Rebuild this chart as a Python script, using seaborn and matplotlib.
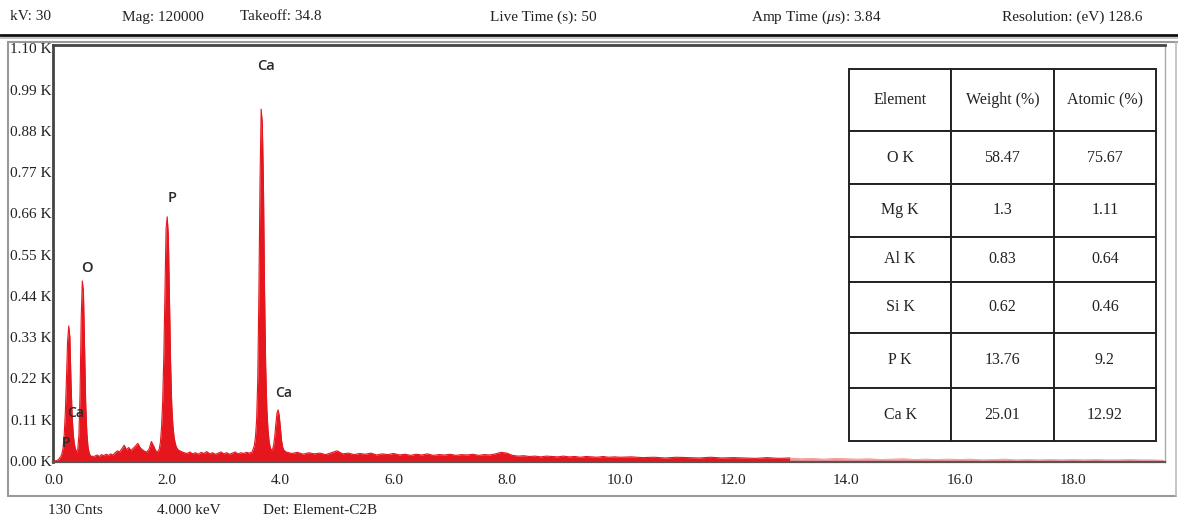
import numpy as np
import pandas as pd
import seaborn as sns
import matplotlib
matplotlib.use("Agg")
import matplotlib.pyplot as plt
from matplotlib.lines import Line2D

# ---------------- spectrum (energy in keV, counts in thousands) ----------------
energy_kev = [
    0.00, 0.02, 0.04, 0.06, 0.08, 0.10, 0.12, 0.14, 0.16, 0.18,
    0.20, 0.22, 0.24, 0.26, 0.28, 0.30, 0.32, 0.34, 0.36, 0.38,
    0.40, 0.42, 0.44, 0.46, 0.48, 0.50, 0.52, 0.54, 0.56, 0.58,
    0.60, 0.62, 0.64, 0.66, 0.68, 0.70,
    0.72, 0.76, 0.80, 0.84, 0.88, 0.92, 0.96, 1.00, 1.04, 1.08,
    1.12, 1.16, 1.20, 1.24, 1.28, 1.32, 1.36, 1.40, 1.44, 1.48,
    1.52, 1.56, 1.60, 1.64, 1.68, 1.72, 1.76, 1.80,
    1.84, 1.86, 1.88, 1.90, 1.92, 1.94, 1.96, 1.98, 2.00, 2.02,
    2.04, 2.06, 2.08, 2.10, 2.12, 2.14, 2.16, 2.18, 2.20, 2.25, 2.30,
    2.35, 2.40, 2.45, 2.50, 2.55, 2.60, 2.65, 2.70, 2.75, 2.80,
    2.85, 2.90, 2.95, 3.00, 3.05, 3.10, 3.15, 3.20, 3.25, 3.30,
    3.35, 3.40, 3.45, 3.50,
    3.52, 3.54, 3.56, 3.58, 3.60, 3.62, 3.64, 3.66, 3.68, 3.70,
    3.72, 3.74, 3.76, 3.78, 3.80, 3.82, 3.84, 3.86,
    3.88, 3.90, 3.92, 3.94, 3.96, 3.98, 4.00, 4.02, 4.04, 4.06,
    4.10, 4.20, 4.30, 4.40, 4.50, 4.60, 4.70, 4.80, 4.90, 5.00,
    5.10, 5.20, 5.30, 5.40, 5.50, 5.60, 5.70, 5.80, 5.90, 6.00,
    6.10, 6.20, 6.30, 6.40, 6.50, 6.60, 6.70, 6.80, 6.90, 7.00,
    7.10, 7.20, 7.30, 7.40, 7.50, 7.60, 7.70, 7.80, 7.90, 8.00,
    8.10, 8.20, 8.30, 8.40, 8.50, 8.60, 8.70, 8.80, 8.90, 9.00,
    9.10, 9.20, 9.30, 9.40, 9.50, 9.60, 9.70, 9.80, 9.90, 10.00,
    10.2, 10.4, 10.6, 10.8, 11.0, 11.2, 11.4, 11.6, 11.8, 12.0,
    12.2, 12.4, 12.6, 12.8, 13.0, 13.2, 13.4, 13.6, 13.8, 14.0,
    14.2, 14.4, 14.6, 14.8, 15.0, 15.2, 15.4, 15.6, 15.8, 16.0,
    16.2, 16.4, 16.6, 16.8, 17.0, 17.2, 17.4, 17.6, 17.8, 18.0,
    18.2, 18.4, 18.6, 18.8, 19.0, 19.2, 19.4, 19.6,
]
counts_k = [
    0.000, 0.000, 0.001, 0.002, 0.004, 0.008, 0.012, 0.020, 0.035, 0.070,
    0.130, 0.220, 0.320, 0.360, 0.330, 0.210, 0.120, 0.070, 0.045, 0.030,
    0.024, 0.032, 0.070, 0.180, 0.380, 0.480, 0.450, 0.300, 0.150, 0.075,
    0.038, 0.022, 0.015, 0.012, 0.013, 0.011,
    0.013, 0.016, 0.012, 0.017, 0.014, 0.018, 0.015, 0.019, 0.016, 0.022,
    0.027, 0.024, 0.033, 0.042, 0.030, 0.036, 0.028, 0.034, 0.040, 0.047,
    0.036, 0.030, 0.026, 0.024, 0.032, 0.052, 0.040, 0.026,
    0.026, 0.032, 0.050, 0.090, 0.160, 0.280, 0.450, 0.620, 0.651, 0.600,
    0.430, 0.260, 0.150, 0.095, 0.065, 0.048, 0.038, 0.032, 0.029, 0.025, 0.022,
    0.020, 0.024, 0.019, 0.022, 0.018, 0.023, 0.020, 0.025, 0.019, 0.022,
    0.018, 0.021, 0.024, 0.019, 0.022, 0.018, 0.021, 0.024, 0.019, 0.022,
    0.020, 0.023, 0.021, 0.024,
    0.032, 0.042, 0.065, 0.110, 0.220, 0.450, 0.750, 0.938, 0.900, 0.740,
    0.450, 0.250, 0.140, 0.085, 0.052, 0.036, 0.029, 0.031,
    0.042, 0.065, 0.100, 0.128, 0.136, 0.120, 0.088, 0.055, 0.037, 0.029,
    0.024, 0.020, 0.023, 0.018, 0.022, 0.019, 0.021, 0.017, 0.022, 0.027,
    0.019, 0.021, 0.017, 0.020, 0.018, 0.021, 0.016, 0.019, 0.017, 0.020,
    0.016, 0.018, 0.015, 0.018, 0.016, 0.019, 0.015, 0.017, 0.016, 0.018,
    0.015, 0.017, 0.016, 0.018, 0.015, 0.017, 0.016, 0.019, 0.023, 0.021,
    0.015, 0.013, 0.014, 0.012, 0.013, 0.011, 0.013, 0.012, 0.011, 0.013,
    0.011, 0.012, 0.010, 0.012, 0.011, 0.010, 0.012, 0.010, 0.011, 0.010,
    0.011, 0.009, 0.010, 0.008, 0.010, 0.009, 0.008, 0.010, 0.008, 0.009,
    0.008, 0.007, 0.009, 0.007, 0.008, 0.006, 0.007, 0.005, 0.007, 0.006,
    0.005, 0.006, 0.004, 0.005, 0.006, 0.004, 0.005, 0.004, 0.005, 0.004,
    0.005, 0.003, 0.004, 0.005, 0.003, 0.004, 0.003, 0.004, 0.003, 0.004,
    0.003, 0.004, 0.003, 0.003, 0.004, 0.003, 0.003, 0.002,
]

# ---------------- peak identifications ----------------
peak_labels = ["P", "Ca", "O", "P", "Ca", "Ca"]
peak_label_kev = [0.21, 0.39, 0.58, 2.08, 3.75, 4.05]
peak_label_k = [0.048, 0.128, 0.515, 0.700, 1.053, 0.180]
peak_label_size = [10.0, 10.0, 10.5, 10.5, 10.5, 10.0]

# ---------------- quantification table ----------------
elements = ["O K", "Mg K", "Al K", "Si K", "P K", "Ca K"]
weight_pct = ["58.47", "1.3", "0.83", "0.62", "13.76", "25.01"]
atomic_pct = ["75.67", "1.11", "0.64", "0.46", "9.2", "12.92"]
table_header = ["Element", "Weight (%)", "Atomic (%)"]

# ---------------- acquisition info ----------------
header_items = ["kV: 30", "Mag: 120000", "Takeoff: 34.8", "Live Time (s): 50",
                "Amp Time ($\\mu$s): 3.84", "Resolution: (eV) 128.6"]
footer_items = ["130 Cnts", "4.000 keV", "Det: Element-C2B"]
y_ticks_k = [0.00, 0.11, 0.22, 0.33, 0.44, 0.55, 0.66, 0.77, 0.88, 0.99, 1.10]
x_ticks_kev = [0.0, 2.0, 4.0, 6.0, 8.0, 10.0, 12.0, 14.0, 16.0, 18.0]

# ---------------- style ----------------
sns.set_theme(style="white")
serif = ["Liberation Serif", "DejaVu Serif"]
plt.rcParams["font.family"] = serif
plt.rcParams["mathtext.fontset"] = "custom"
plt.rcParams["mathtext.rm"] = "Liberation Serif"
plt.rcParams["mathtext.it"] = "Liberation Serif:italic"

W, H = 1178, 523
fig = plt.figure(figsize=(W / 100, H / 100), dpi=100)
fig.patch.set_facecolor("white")


def fx(px):
    return px / W


def fy(py):
    return 1 - py / H


ax_left, ax_right, ax_top, ax_bottom = 53, 1165, 45, 462
ax = fig.add_axes([fx(ax_left), fy(ax_bottom), fx(ax_right - ax_left),
                   (ax_bottom - ax_top) / H])

spec = pd.DataFrame({"energy": energy_kev, "counts": counts_k})
red = "#e5161d"
main = spec[spec.energy <= 13.0]
tail = spec[spec.energy >= 13.0]
ax.fill_between(main.energy, 0, main.counts, color=red, lw=0, zorder=2)
ax.fill_between(tail.energy, 0, tail.counts, color=red, alpha=0.45, lw=0, zorder=2)
sns.lineplot(data=main, x="energy", y="counts", ax=ax, color=red, lw=0.8,
             zorder=3, estimator=None)
sns.lineplot(data=tail, x="energy", y="counts", ax=ax, color=red, lw=0.6,
             alpha=0.45, zorder=3, estimator=None)

ax.set_xlim(-0.018, 19.63)
ax.set_ylim(-0.0027, 1.109)
ax.set_xlabel("")
ax.set_ylabel("")
ax.set_xticks(x_ticks_kev)
ax.set_xticklabels([f"{v:.1f}" for v in x_ticks_kev], fontsize=11)
ax.set_yticks(y_ticks_k)
ax.set_yticklabels([f"{v:.2f} K" for v in y_ticks_k], fontsize=11)
ax.tick_params(axis="x", direction="in", length=4, width=1, color="#666",
               pad=9, labelcolor="#222")
ax.tick_params(axis="y", direction="in", length=3, width=1, color="#666",
               pad=1, labelcolor="#222")
for side, lw, col in [("left", 2.0, "#444"), ("top", 2.0, "#444"),
                      ("bottom", 1.6, "#555"), ("right", 1.0, "#aaa")]:
    ax.spines[side].set_visible(True)
    ax.spines[side].set_linewidth(lw)
    ax.spines[side].set_color(col)

for lab, xk, yk, sz in zip(peak_labels, peak_label_kev, peak_label_k, peak_label_size):
    ax.text(xk, yk, lab, ha="center", va="center", fontsize=sz,
            family=["Open Sans", "DejaVu Sans"], fontweight="semibold",
            color="#2a2a2a", zorder=5)

# quantification table
cell_text = [[e, w, a] for e, w, a in zip(elements, weight_pct, atomic_pct)]
tbl_x0, tbl_x1, tbl_y0, tbl_y1 = 849, 1156, 69, 441
ax_w, ax_h = ax_right - ax_left, ax_bottom - ax_top
tbl = ax.table(cellText=cell_text, colLabels=table_header, cellLoc="center",
               bbox=[(tbl_x0 - ax_left) / ax_w, (ax_bottom - tbl_y1) / ax_h,
                     (tbl_x1 - tbl_x0) / ax_w, (tbl_y1 - tbl_y0) / ax_h],
               zorder=6)
tbl.auto_set_font_size(False)
row_px = [62.4, 52.6, 52.4, 45.0, 51.0, 55.6, 52.7]
for (r, c), cell in tbl.get_celld().items():
    cell.set_height(row_px[r])
    cell.set_linewidth(1.4)
    cell.set_edgecolor("#222")
    cell.set_facecolor("white")
    cell.get_text().set_fontsize(11.5)
    cell.get_text().set_fontfamily(serif)
    cell.get_text().set_color("#222")

# header, rules and frame
header_x = [10, 122, 240, 490, 751, 1002]
for txt, x in zip(header_items, header_x):
    fig.text(fx(x), fy(17), txt, ha="left", va="center", fontsize=11, color="#222")
footer_x = [48, 157, 263]
for txt, x in zip(footer_items, footer_x):
    fig.text(fx(x), fy(511), txt, ha="left", va="center", fontsize=11, color="#222")

fig.add_artist(Line2D([0, 1], [fy(35), fy(35)], color="#111", lw=2.0))
fig.add_artist(Line2D([0, 1], [fy(38), fy(38)], color="#bbb", lw=1.2))
fig.add_artist(Line2D([fx(8), 1], [fy(41.5), fy(41.5)], color="#999", lw=1.5))
fig.add_artist(Line2D([fx(8), fx(8)], [fy(41.5), fy(496)], color="#999", lw=1.5))
fig.add_artist(Line2D([fx(8), fx(1176)], [fy(496), fy(496)], color="#999", lw=1.5))
fig.add_artist(Line2D([fx(1176), fx(1176)], [fy(41.5), fy(496)], color="#bbb", lw=1.2))

fig.savefig("out.png", dpi=100, facecolor="white")
